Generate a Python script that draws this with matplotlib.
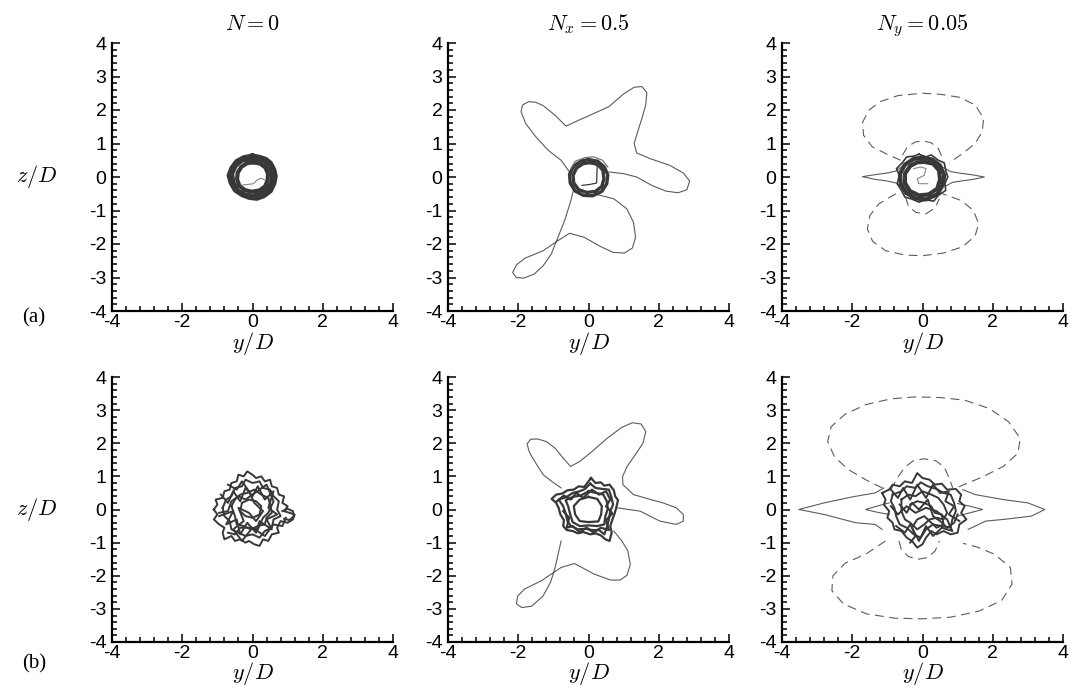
import matplotlib
matplotlib.use('Agg')
import matplotlib.pyplot as plt
from matplotlib.ticker import MultipleLocator

plt.rcParams['mathtext.fontset'] = 'cm'
plt.rcParams['font.family'] = ['Liberation Sans', 'DejaVu Sans']
plt.rcParams['axes.unicode_minus'] = False

W, H = 1071, 688
LINE = '#5c5c5c'
DARK = '#383838'

TITLES = [r'$N=0$', r'$N_x=0.5$', r'$N_y=0.05$']
ROW_TAGS = ['(a)', '(b)']
XLABEL = r'$y/D$'
YLABEL = r'$z/D$'

# ---- row (a), N = 0 : thick ring of vorticity ----
A0_RINGS = [
    [(0.0, 0.64), (0.2, 0.6), (0.38, 0.54), (0.52, 0.42), (0.62, 0.22),
     (0.66, 0.02), (0.62, -0.2), (0.52, -0.42), (0.33, -0.57), (0.12, -0.65),
     (-0.1, -0.62), (-0.3, -0.54), (-0.5, -0.4), (-0.62, -0.18),
     (-0.68, 0.05), (-0.6, 0.27), (-0.46, 0.47), (-0.25, 0.59), (0.0, 0.64)],
    [(0.02, 0.44), (0.22, 0.4), (0.37, 0.28), (0.44, 0.1), (0.43, -0.1),
     (0.36, -0.28), (0.2, -0.4), (-0.02, -0.44), (-0.22, -0.39),
     (-0.37, -0.27), (-0.44, -0.07), (-0.42, 0.13), (-0.32, 0.3),
     (-0.16, 0.41), (0.02, 0.44)],
    [(0.05, 0.55), (0.3, 0.5), (0.46, 0.32), (0.56, 0.1), (0.54, -0.15),
     (0.44, -0.36), (0.25, -0.5), (0.0, -0.56), (-0.22, -0.52),
     (-0.42, -0.4), (-0.55, -0.15), (-0.58, 0.1), (-0.48, 0.33),
     (-0.3, 0.49), (0.05, 0.55)],
]
A0_INNER = [(-0.3, -0.24), (-0.12, -0.22), (0.03, -0.2), (0.12, -0.1),
            (0.22, -0.04), (0.35, -0.08)]

# ---- row (a), Nx = 0.5 : four-armed sheet around the ring ----
A1_STAR_UP = [(-0.45, 0.05), (-0.54, 0.15), (-0.78, 0.5), (-1.15, 0.8), (-1.5, 1.2),
              (-1.79, 1.6), (-1.92, 1.95), (-1.88, 2.15), (-1.7, 2.25), (-1.5, 2.23),
              (-1.29, 2.13), (-0.96, 1.85), (-0.64, 1.52), (-0.31, 1.68),
              (0.16, 1.9), (0.58, 2.1), (1.0, 2.48), (1.3, 2.68), (1.52, 2.7),
              (1.66, 2.52), (1.63, 2.15), (1.52, 1.75), (1.4, 1.35), (1.3, 1.0),
              (1.37, 0.72), (1.75, 0.55), (2.31, 0.35), (2.7, 0.12), (2.88, -0.12),
              (2.8, -0.38), (2.55, -0.47), (2.2, -0.42), (1.8, -0.25), (1.37, 0.0),
              (1.0, 0.1), (0.58, 0.15)]
A1_STAR_LO = [(0.16, -0.5), (0.72, -0.65), (1.09, -0.95), (1.28, -1.35),
              (1.34, -1.8), (1.25, -2.12), (1.02, -2.27), (0.7, -2.25),
              (0.35, -2.08), (-0.12, -1.8), (-0.54, -1.68), (-0.87, -1.9),
              (-1.29, -2.2), (-1.8, -2.42), (-2.05, -2.62), (-2.16, -2.85),
              (-2.06, -3.0), (-1.85, -3.02), (-1.55, -2.9), (-1.29, -2.65),
              (-1.06, -2.3), (-0.87, -1.8), (-0.68, -1.3), (-0.5, -0.7),
              (-0.42, -0.35)]
A1_RINGS = [
    [(0.0, 0.52), (0.26, 0.47), (0.45, 0.3), (0.55, 0.06), (0.52, -0.2),
     (0.38, -0.43), (0.12, -0.56), (-0.14, -0.55), (-0.38, -0.42),
     (-0.52, -0.18), (-0.54, 0.08), (-0.42, 0.33), (-0.2, 0.48), (0.0, 0.52)],
    [(0.05, 0.43), (0.27, 0.37), (0.41, 0.2), (0.44, -0.05), (0.38, -0.28),
     (0.2, -0.43), (-0.05, -0.46), (-0.28, -0.38), (-0.42, -0.18),
     (-0.44, 0.05), (-0.34, 0.27), (-0.15, 0.4), (0.05, 0.43)],
]
A1_ARC = [(-0.5, 0.25), (-0.38, 0.47), (-0.1, 0.58), (0.15, 0.6), (0.4, 0.5),
          (0.55, 0.3)]
A1_INNER = [(0.25, 0.4), (0.24, 0.1), (0.23, -0.18), (0.05, -0.22),
            (-0.18, -0.25)]

# ---- row (a), Ny = 0.05 : dashed lobes and solid spindle ----
A2_LOBE_UP = [(-0.62, 0.5), (-0.95, 0.65), (-1.43, 0.9), (-1.68, 1.25), (-1.7, 1.65),
              (-1.52, 2.0), (-1.2, 2.25), (-0.7, 2.43), (0.0, 2.5), (0.5, 2.47),
              (1.05, 2.38), (1.5, 2.15), (1.74, 1.75), (1.7, 1.35), (1.5, 1.0),
              (1.14, 0.7), (0.76, 0.42)]
A2_ARC_UP = [(-0.57, 0.65), (-0.43, 0.9), (-0.22, 1.04), (0.0, 1.08), (0.25, 1.02),
             (0.45, 0.85), (0.57, 0.57)]
A2_LOBE_LO = [(-0.76, -0.5), (-1.24, -0.8), (-1.5, -1.15), (-1.57, -1.55),
              (-1.42, -1.92), (-1.05, -2.2), (-0.5, -2.33), (0.0, -2.35), (0.6, -2.27),
              (1.15, -2.08), (1.5, -1.75), (1.6, -1.4), (1.45, -1.0), (1.1, -0.7),
              (0.57, -0.5)]
A2_ARC_LO = [(-0.48, -0.6), (-0.4, -0.88), (-0.18, -1.06), (0.1, -1.1),
             (0.36, -0.92), (0.48, -0.65)]
A2_SPIN_L = [(-0.6, 0.3), (-0.75, 0.18), (-1.0, 0.12), (-1.35, 0.07),
             (-1.71, 0.01), (-1.35, -0.07), (-1.0, -0.12), (-0.75, -0.18),
             (-0.62, -0.28)]
A2_SPIN_R = [(0.6, 0.28), (0.8, 0.16), (1.1, 0.11), (1.45, 0.06), (1.76, 0.0),
             (1.45, -0.07), (1.1, -0.12), (0.85, -0.16), (0.65, -0.28)]
A2_RINGS = [
    [(0.0, 0.58), (0.28, 0.52), (0.5, 0.34), (0.62, 0.05), (0.57, -0.25),
     (0.42, -0.52), (0.1, -0.67), (-0.2, -0.64), (-0.47, -0.47),
     (-0.62, -0.2), (-0.64, 0.1), (-0.5, 0.37), (-0.25, 0.54), (0.0, 0.58)],
    [(0.05, 0.45), (0.3, 0.4), (0.47, 0.2), (0.5, -0.08), (0.42, -0.35),
     (0.18, -0.52), (-0.1, -0.55), (-0.36, -0.42), (-0.5, -0.18),
     (-0.5, 0.1), (-0.35, 0.33), (-0.15, 0.44), (0.05, 0.45)],
    [(-0.1, 0.68), (0.1, 0.6), (0.25, 0.66), (0.45, 0.5), (0.62, 0.42),
     (0.66, 0.2), (0.72, 0.0), (0.64, -0.18), (0.66, -0.4), (0.45, -0.55),
     (0.32, -0.72), (0.1, -0.68), (-0.1, -0.75), (-0.3, -0.66), (-0.5, -0.6),
     (-0.6, -0.4), (-0.72, -0.2), (-0.66, 0.05), (-0.74, 0.25), (-0.58, 0.42),
     (-0.45, 0.6), (-0.25, 0.62), (-0.1, 0.68)],
]
A2_INNER = [(-0.25, 0.25), (-0.05, 0.3), (0.1, 0.25), (0.05, 0.05),
            (-0.15, -0.05), (-0.1, -0.2), (0.15, -0.2)]

# ---- row (b), N = 0 : broken-up core ----
B0_PATHS = [
    [(-1.1, 0.0), (-1.0, 0.15), (-1.05, 0.3), (-0.85, 0.35), (-0.8, 0.55), (-0.65, 0.6),
     (-0.6, 0.8), (-0.45, 0.85), (-0.4, 1.05), (-0.25, 1.0), (-0.15, 1.15), (0.0, 1.05),
     (0.1, 0.95), (0.25, 1.0), (0.35, 0.85), (0.5, 0.9), (0.55, 0.7), (0.7, 0.65),
     (0.75, 0.45), (0.9, 0.4), (0.85, 0.2), (1.0, 0.1), (0.9, -0.05), (1.05, -0.1),
     (1.2, -0.15), (1.15, -0.3), (1.0, -0.4), (0.8, -0.35), (0.7, -0.55),
     (0.75, -0.7), (0.55, -0.75), (0.45, -0.95), (0.3, -0.9), (0.2, -1.1),
     (0.05, -1.05), (-0.1, -0.95), (-0.2, -1.0), (-0.35, -0.9), (-0.5, -0.95),
     (-0.6, -0.8), (-0.8, -0.9), (-0.85, -0.7), (-0.8, -0.55), (-0.95, -0.45),
     (-1.1, -0.3), (-1.0, -0.15), (-1.1, 0.0)],
    [(-0.85, 0.05), (-0.75, 0.3), (-0.6, 0.4), (-0.5, 0.65), (-0.3, 0.7), (-0.2, 0.9),
     (0.0, 0.8), (0.2, 0.85), (0.3, 0.65), (0.5, 0.6), (0.6, 0.4), (0.75, 0.25),
     (0.7, 0.0), (0.8, -0.2), (0.6, -0.3), (0.55, -0.55), (0.35, -0.65),
     (0.2, -0.85), (0.0, -0.75), (-0.2, -0.8), (-0.4, -0.7), (-0.6, -0.6),
     (-0.65, -0.35), (-0.8, -0.2), (-0.85, 0.05)],
    [(-0.6, 0.1), (-0.5, 0.3), (-0.35, 0.45), (-0.15, 0.5), (0.05, 0.6), (0.25, 0.45),
     (0.45, 0.35), (0.5, 0.15), (0.55, -0.1), (0.4, -0.25), (0.35, -0.45),
     (0.15, -0.5), (-0.05, -0.6), (-0.25, -0.5), (-0.45, -0.45), (-0.5, -0.2),
     (-0.6, 0.1)],
    [(-0.3, 0.2), (-0.1, 0.3), (0.1, 0.25), (0.25, 0.1), (0.2, -0.15), (0.0, -0.25),
     (-0.2, -0.2), (-0.35, -0.05), (-0.3, 0.2)],
    [(-0.9, 0.45), (-0.7, 0.2), (-0.55, 0.55), (-0.35, 0.25), (-0.2, 0.65),
     (0.0, 0.4), (0.15, 0.7), (0.35, 0.3), (0.6, 0.55), (0.45, 0.05), (0.7, -0.15),
     (0.4, -0.3), (0.55, -0.6), (0.2, -0.35), (0.1, -0.7), (-0.15, -0.4),
     (-0.35, -0.75), (-0.45, -0.3), (-0.75, -0.45), (-0.55, -0.05), (-0.95, -0.2)],
    [(-0.7, 0.75), (-0.45, 0.6), (-0.3, 0.85), (-0.1, 0.55), (0.05, 0.2),
     (0.3, -0.05), (0.1, -0.35), (-0.1, -0.1), (-0.4, 0.05), (-0.25, -0.35),
     (-0.55, -0.6), (-0.3, -0.95), (0.0, -0.55), (0.35, -0.8), (0.6, -0.45),
     (0.85, -0.5), (0.95, -0.25)],
    [(0.85, -0.05), (1.0, 0.02), (1.15, -0.05), (1.18, -0.2), (1.05, -0.32),
     (0.9, -0.28)],
    [(-0.95, -0.1), (-0.7, -0.05), (-0.6, 0.25), (-0.4, 0.4), (-0.2, 0.3),
     (0.0, 0.45), (0.2, 0.6), (0.4, 0.75), (0.6, 0.25), (0.45, -0.1), (0.3, -0.25),
     (0.15, -0.6), (-0.1, -0.55), (-0.35, -0.55), (-0.5, -0.75), (-0.7, -0.7)],
]

# ---- row (b), Nx = 0.5 ----
B1_STAR_UP = [(-0.78, 0.65), (-1.05, 0.85), (-1.29, 1.05), (-1.5, 1.4),
              (-1.68, 1.72), (-1.75, 1.98), (-1.65, 2.12), (-1.45, 2.13),
              (-1.2, 2.05), (-0.95, 1.85), (-0.72, 1.55), (-0.51, 1.3),
              (-0.25, 1.45), (0.1, 1.75), (0.53, 2.15), (0.95, 2.48), (1.25, 2.62),
              (1.5, 2.58), (1.63, 2.35), (1.55, 2.0), (1.33, 1.65), (1.1, 1.3),
              (0.97, 1.0), (0.98, 0.75), (1.28, 0.45), (1.7, 0.32), (2.12, 0.2),
              (2.5, 0.05), (2.7, -0.15), (2.7, -0.35), (2.5, -0.45), (2.03, -0.35),
              (1.47, -0.05), (0.81, 0.05)]
B1_STAR_LO = [(0.72, -0.65), (0.95, -0.95), (1.12, -1.25), (1.19, -1.65),
              (1.1, -1.98), (0.9, -2.13), (0.63, -2.13), (0.16, -1.95),
              (-0.4, -1.63), (-0.78, -1.75), (-1.34, -2.15), (-1.82, -2.4),
              (-2.02, -2.62), (-2.05, -2.85), (-1.9, -2.96), (-1.62, -2.92),
              (-1.3, -2.62), (-1.08, -2.2), (-0.95, -1.75), (-0.78, -0.95)]
B1_PATHS = [
    [(0.07, 0.95), (0.2, 0.8), (0.35, 0.82), (0.45, 0.72), (0.6, 0.75), (0.72, 0.58),
     (0.76, 0.4), (0.84, 0.28), (0.8, 0.1), (0.75, -0.1), (0.68, -0.3), (0.62, -0.5),
     (0.66, -0.7), (0.6, -0.95), (0.48, -0.9), (0.35, -0.78), (0.2, -0.72),
     (0.05, -0.75), (-0.15, -0.68), (-0.3, -0.72), (-0.45, -0.65), (-0.62, -0.62),
     (-0.72, -0.5), (-0.7, -0.32), (-0.8, -0.15), (-0.85, 0.05), (-0.92, 0.2),
     (-1.05, 0.32), (-0.92, 0.45), (-0.75, 0.48), (-0.6, 0.58), (-0.42, 0.6),
     (-0.28, 0.7), (-0.12, 0.68), (0.07, 0.95)],
    [(0.05, 0.78), (0.2, 0.65), (0.4, 0.62), (0.58, 0.6), (0.65, 0.38), (0.7, 0.15),
     (0.62, -0.05), (0.58, -0.3), (0.52, -0.55), (0.45, -0.75), (0.3, -0.62),
     (0.1, -0.62), (-0.1, -0.58), (-0.3, -0.6), (-0.5, -0.5), (-0.6, -0.35),
     (-0.65, -0.12), (-0.72, 0.1), (-0.85, 0.3), (-0.62, 0.38), (-0.45, 0.5),
     (-0.25, 0.55), (-0.1, 0.62), (0.05, 0.78)],
    [(0.0, 0.55), (0.22, 0.5), (0.42, 0.45), (0.52, 0.25), (0.55, 0.02),
     (0.48, -0.2), (0.45, -0.45), (0.25, -0.5), (0.0, -0.48), (-0.25, -0.5),
     (-0.45, -0.38), (-0.52, -0.15), (-0.58, 0.1), (-0.65, 0.28), (-0.45, 0.38),
     (-0.22, 0.42), (0.0, 0.55)],
    [(0.0, 0.38), (0.25, 0.32), (0.38, 0.1), (0.36, -0.15), (0.28, -0.36),
     (0.0, -0.38), (-0.25, -0.35), (-0.38, -0.15), (-0.42, 0.1), (-0.25, 0.3),
     (0.0, 0.38)],
    [(-0.9, 0.25), (-0.7, 0.42), (-0.5, 0.3), (-0.35, 0.5), (-0.15, 0.35),
     (0.1, 0.6), (0.3, 0.45), (0.5, 0.55), (0.62, 0.3), (0.5, 0.1), (0.68, -0.12),
     (0.5, -0.32), (0.58, -0.62), (0.35, -0.55), (0.15, -0.7), (-0.05, -0.55),
     (-0.25, -0.68), (-0.45, -0.5), (-0.62, -0.55), (-0.55, -0.25), (-0.72, -0.05)],
]

# ---- row (b), Ny = 0.05 ----
B2_LOBE_UP = [(-1.14, 0.65), (-1.62, 0.9), (-2.1, 1.2), (-2.5, 1.58), (-2.7, 2.05),
              (-2.6, 2.5), (-2.2, 2.88), (-1.6, 3.17), (-0.9, 3.34), (-0.2, 3.4),
              (0.5, 3.38), (1.2, 3.3), (1.9, 3.05), (2.45, 2.65), (2.78, 2.15),
              (2.72, 1.7), (2.3, 1.3), (1.7, 0.98), (1.25, 0.78), (0.95, 0.65)]
B2_ARC_UP = [(-0.9, 0.6), (-0.72, 0.95), (-0.5, 1.28), (-0.25, 1.48), (0.05, 1.53),
             (0.38, 1.47), (0.62, 1.28), (0.76, 0.95), (0.86, 0.65)]
B2_LOBE_LO = [(-1.05, -0.95), (-1.62, -1.35), (-2.2, -1.62), (-2.55, -2.0),
              (-2.58, -2.45), (-2.25, -2.85), (-1.6, -3.15), (-0.8, -3.28),
              (0.0, -3.3), (0.8, -3.25), (1.6, -3.07), (2.25, -2.75), (2.55, -2.25),
              (2.5, -1.75), (2.05, -1.35), (1.55, -1.13), (1.15, -1.02)]
B2_ARC_LO = [(-0.67, -0.95), (-0.6, -1.22), (-0.4, -1.42), (-0.12, -1.5),
             (0.15, -1.45), (0.36, -1.25), (0.48, -0.95)]
B2_SPIN_L = [(-1.1, 0.65), (-1.35, 0.5), (-2.0, 0.38), (-2.8, 0.2), (-3.52, 0.0),
             (-2.8, -0.15), (-1.9, -0.4), (-1.35, -0.45), (-1.15, -0.6)]
B2_SPIN_R = [(1.15, 0.6), (1.5, 0.45), (2.3, 0.3), (3.0, 0.2), (3.48, 0.0),
             (3.1, -0.2), (2.3, -0.3), (1.8, -0.35), (1.3, -0.6)]
B2_SPIN_IL = [(-0.95, 0.2), (-1.3, 0.1), (-1.62, 0.0), (-1.3, -0.08), (-0.95, -0.15)]
B2_SPIN_IR = [(1.0, 0.18), (1.35, 0.1), (1.71, 0.0), (1.35, -0.1), (1.0, -0.2)]
B2_PATHS = [
    [(-1.15, 0.5), (-0.95, 0.6), (-0.85, 0.75), (-0.65, 0.7), (-0.5, 0.85),
     (-0.3, 0.8), (-0.15, 1.1), (0.0, 0.95), (0.2, 0.9), (0.35, 0.75), (0.55, 0.78),
     (0.7, 0.6), (0.95, 0.62), (1.1, 0.45), (1.05, 0.25), (1.2, 0.1), (1.1, -0.1),
     (1.25, -0.3), (1.05, -0.45), (1.0, -0.7), (0.8, -0.75), (0.6, -0.65),
     (0.4, -0.75), (0.25, -0.65), (0.1, -0.85), (0.0, -1.05), (-0.15, -1.15),
     (-0.3, -0.95), (-0.45, -0.85), (-0.6, -0.65), (-0.8, -0.6), (-0.85, -0.4),
     (-1.0, -0.25), (-0.95, -0.05), (-1.1, 0.15), (-1.05, 0.3), (-1.15, 0.5)],
    [(-0.85, 0.45), (-0.6, 0.55), (-0.45, 0.7), (-0.2, 0.65), (-0.05, 0.82),
     (0.15, 0.7), (0.4, 0.62), (0.6, 0.5), (0.8, 0.45), (0.9, 0.2), (0.95, -0.05),
     (0.85, -0.3), (0.8, -0.55), (0.55, -0.5), (0.3, -0.45), (0.1, -0.6),
     (-0.05, -0.85), (-0.25, -0.75), (-0.45, -0.55), (-0.65, -0.45), (-0.75, -0.2),
     (-0.8, 0.05), (-0.9, 0.25), (-0.85, 0.45)],
    [(-0.6, 0.3), (-0.4, 0.45), (-0.2, 0.4), (0.0, 0.55), (0.25, 0.45), (0.45, 0.35),
     (0.6, 0.15), (0.7, -0.1), (0.6, -0.3), (0.4, -0.25), (0.2, -0.3), (0.05, -0.45),
     (-0.15, -0.6), (-0.35, -0.4), (-0.5, -0.3), (-0.6, -0.05), (-0.6, 0.3)],
    [(-0.35, 0.15), (-0.15, 0.25), (0.05, 0.2), (0.25, 0.1), (0.35, -0.1),
     (0.55, -0.15), (0.6, -0.45), (0.4, -0.55), (0.25, -0.4), (0.05, -0.2),
     (-0.15, -0.3), (-0.3, -0.55), (-0.2, -0.8), (-0.35, -1.0)],
    [(-0.9, 0.6), (-0.7, 0.35), (-0.55, 0.65), (-0.35, 0.3), (-0.15, 0.75),
     (0.1, 0.35), (0.3, 0.75), (0.5, 0.5), (0.75, 0.55), (0.65, 0.25), (0.9, 0.1),
     (0.75, -0.15), (1.05, -0.35)],
    [(-0.75, -0.5), (-0.5, -0.7), (-0.35, -0.45), (-0.1, -0.95), (0.1, -0.5),
     (0.3, -0.8), (0.55, -0.55), (0.85, -0.65), (0.7, -0.3), (0.4, -0.05),
     (0.1, 0.05), (-0.2, -0.1), (-0.45, 0.1), (-0.7, -0.15), (-0.9, 0.1)],
    [(-0.65, 0.15), (-0.45, -0.1), (-0.3, 0.2), (-0.1, 0.0), (0.15, 0.3),
     (0.3, -0.2), (0.5, -0.35), (0.7, -0.55), (0.9, -0.4), (1.0, -0.15)],
]

AX_LEFT = [112, 448, 782]
AX_W = 281
ROW_TOP = [43, 377]
ROW_BOT = [311, 642]


def _xy(pts):
    return [p[0] for p in pts], [p[1] for p in pts]


def draw(ax, pts, color=LINE, lw=0.8, ls='-', **kw):
    x, y = _xy(pts)
    ax.plot(x, y, color=color, lw=lw, ls=ls, **kw)


def dashed(ax, pts):
    draw(ax, pts, ls=(0, (8, 5)), lw=0.8)


def style(ax):
    ax.set_xlim(-4, 4)
    ax.set_ylim(-4, 4)
    for s in ('top', 'right'):
        ax.spines[s].set_visible(False)
    for s in ('left', 'bottom'):
        ax.spines[s].set_linewidth(1.6)
    ax.xaxis.set_major_locator(MultipleLocator(2))
    ax.xaxis.set_minor_locator(MultipleLocator(0.4))
    ax.yaxis.set_major_locator(MultipleLocator(1))
    ax.yaxis.set_minor_locator(MultipleLocator(0.2))
    ax.tick_params(which='both', direction='in', width=1.1, labelsize=14)
    ax.tick_params(axis='x', pad=2)
    ax.tick_params(axis='y', pad=4)
    ax.tick_params(which='major', length=6)
    ax.tick_params(which='minor', length=3.5)


fig = plt.figure(figsize=(W / 100, H / 100), dpi=100)
axes = []
for r in range(2):
    row = []
    for c in range(3):
        b = (H - ROW_BOT[r]) / H
        h = (ROW_BOT[r] - ROW_TOP[r]) / H
        ax = fig.add_axes([AX_LEFT[c] / W, b, AX_W / W, h])
        style(ax)
        row.append(ax)
    axes.append(row)

# (a) N=0
ax = axes[0][0]
for ring in A0_RINGS:
    draw(ax, ring, color=DARK, lw=3.0)
draw(ax, A0_INNER, color='#888888', lw=0.8)

# (a) Nx=0.5
ax = axes[0][1]
draw(ax, A1_STAR_UP)
draw(ax, A1_STAR_LO)
for ring in A1_RINGS:
    draw(ax, ring, color=DARK, lw=2.4)
draw(ax, A1_ARC, color='#777777', lw=0.9)
draw(ax, A1_INNER, color=DARK, lw=0.9)

# (a) Ny=0.05
ax = axes[0][2]
for p in (A2_LOBE_UP, A2_ARC_UP, A2_LOBE_LO, A2_ARC_LO):
    dashed(ax, p)
draw(ax, A2_SPIN_L)
draw(ax, A2_SPIN_R)
for ring in A2_RINGS[:2]:
    draw(ax, ring, color=DARK, lw=3.0)
draw(ax, A2_RINGS[2], color=DARK, lw=1.2)
draw(ax, A2_INNER, color='#888888', lw=0.8)

# (b) N=0
ax = axes[1][0]
for p in B0_PATHS:
    draw(ax, p, color=DARK, lw=1.4)

# (b) Nx=0.5
ax = axes[1][1]
draw(ax, B1_STAR_UP)
draw(ax, B1_STAR_LO)
for p in B1_PATHS:
    draw(ax, p, color=DARK, lw=1.6)

# (b) Ny=0.05
ax = axes[1][2]
for p in (B2_LOBE_UP, B2_ARC_UP, B2_LOBE_LO, B2_ARC_LO):
    dashed(ax, p)
for p in (B2_SPIN_L, B2_SPIN_R, B2_SPIN_IL, B2_SPIN_IR):
    draw(ax, p)
for p in B2_PATHS:
    draw(ax, p, color=DARK, lw=1.4)

# labels
for c in range(3):
    axes[0][c].set_title(TITLES[c], fontsize=16, pad=9)
for r in range(2):
    for c in range(3):
        axes[r][c].text(0.5, -0.12, XLABEL, transform=axes[r][c].transAxes,
                        ha='center', va='center', fontsize=16)
    yc = (ROW_TOP[r] + ROW_BOT[r]) / 2
    fig.text(37 / W, 1 - yc / H, YLABEL, ha='center', va='center', fontsize=16)
    fig.text(34 / W, 1 - (ROW_BOT[r] + 7 + 15 * r) / H, ROW_TAGS[r],
             ha='center', va='center', fontsize=15,
             family=['Liberation Serif', 'DejaVu Serif'])

fig.savefig('out.png', dpi=100)
